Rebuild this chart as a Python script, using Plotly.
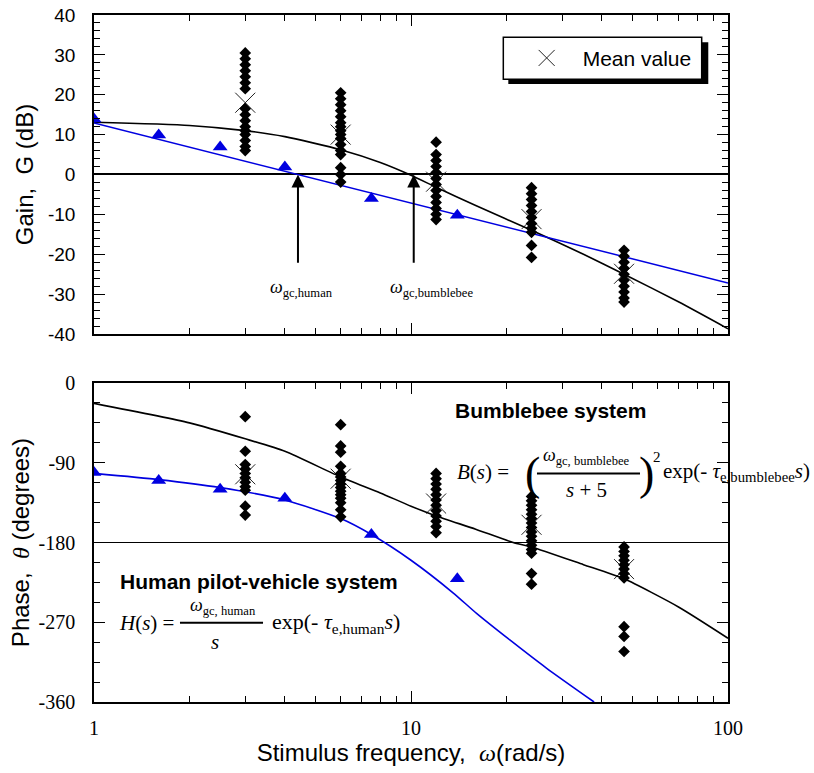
import math
import plotly.graph_objects as go

# ---------------- data ----------------
bee_freqs = [3, 6, 12, 24, 47]
bee_gain_3 = [30.5, 29, 27.5, 26, 24.5, 23, 21.5, 16.5, 15, 13.5, 12, 11, 10, 8.5, 7, 6]
bee_gain_6 = [20.5, 19, 17.5, 16, 14.5, 13, 12, 11, 10, 9, 7.5, 6, 5, 1.7, 0, -1.9]
bee_gain_12 = [8.1, 5, 3.5, 2, 0.5, -1, -2.5, -4, -5.5, -7, -8.5, -10, -11.3]
bee_gain_24 = [-3.3, -4.8, -6.3, -7.8, -9.3, -10.8, -12.3, -13.5, -14.5, -17.8, -20.8]
bee_gain_47 = [-19, -20.5, -22, -23.5, -25, -26.5, -28, -29.5, -31, -32]
bee_gain_mean = [18, 10, -1.8, -11.2, -24.9]

bee_phase_3 = [-38, -77, -92, -97, -102, -107, -112, -117, -121, -139, -149]
bee_phase_6 = [-47, -71, -78, -94, -102, -106, -110, -114, -118, -122, -126, -130, -135, -143, -151]
bee_phase_12 = [-102, -108, -114, -120, -126, -132, -138, -144, -150, -156, -162, -169]
bee_phase_24 = [-128, -133, -138, -143, -148, -153, -158, -163, -168, -173, -178, -183, -188, -192, -215, -227]
bee_phase_47 = [-185, -190, -195, -200, -205, -210, -215, -220, -275, -286, -303]
bee_phase_mean = [-103, -108, -136, -160, -210]

human_freqs = [1, 1.6, 2.5, 4, 7.5, 14]
human_gain = [13.9, 9.9, 6.9, 1.9, -6.0, -10.2]
human_phase = [-101, -110, -120, -130, -171, -221]

bee_curve_w = [1, 2, 3, 4, 6, 8, 10, 12, 16, 24, 35, 47, 70, 100]
bee_curve_gain = [13.1, 12.3, 11.0, 9.5, 6.2, 3.0, -0.2, -3.2, -7.8, -14.0, -20.0, -25.0, -32.0, -38.7]
bee_curve_pw = [1, 2, 3, 4, 6, 8, 10, 12, 16, 21, 24, 35, 47, 70, 100]
bee_curve_phase = [-23, -45, -63, -77, -106, -124, -139, -150, -165, -180, -185, -205, -221, -253, -288]

human_curve_w = [1, 4.4, 10, 100]
human_curve_gain = [12.9, 0, -7.2, -27.2]
human_curve_pw = [1, 1.6, 2.5, 4, 6, 7.5, 10, 13.6, 16.1, 20.5, 26.8, 37.8]
human_curve_phase = [-102, -109, -118, -132, -153, -171, -200, -237, -260, -290, -322, -360]

wgc_human = 4.4
wgc_bee = 10.2

gain_ticks = [40, 30, 20, 10, 0, -10, -20, -30, -40]
gain_tick_text = ["40", "30", "20", "10", "0", "-10", "-20", "-30", "-40"]
phase_ticks = [0, -90, -180, -270, -360]
phase_tick_text = ["0", "-90", "-180", "-270", "-360"]
freq_ticks = [1, 10, 100]
freq_tick_text = ["1", "10", "100"]
minor_freq = [2, 3, 4, 5, 6, 7, 8, 9, 20, 30, 40, 50, 60, 70, 80, 90]

# ---------------- helpers ----------------
def stack(freqs, groups):
    xs, ys = [], []
    for f, g in zip(freqs, groups):
        xs += [f] * len(g)
        ys += g
    return xs, ys

BLACK = "#000000"
BLUE = "#0000E0"
XCOL = "#222222"
SANS = "Liberation Sans, Arial, sans-serif"
SERIF = "Liberation Serif, Times New Roman, serif"

fig = go.Figure()

gx, gy = stack(bee_freqs, [bee_gain_3, bee_gain_6, bee_gain_12, bee_gain_24, bee_gain_47])
px_, py_ = stack(bee_freqs, [bee_phase_3, bee_phase_6, bee_phase_12, bee_phase_24, bee_phase_47])

xmark = dict(symbol="x-thin-open", size=20, color=XCOL, line=dict(color=XCOL, width=1))
fig.add_trace(go.Scatter(x=bee_freqs, y=bee_gain_mean, mode="markers", name="Mean value",
                         marker=xmark, xaxis="x", yaxis="y", showlegend=True))
fig.add_trace(go.Scatter(x=bee_freqs, y=bee_phase_mean, mode="markers", name="Mean value",
                         marker=xmark, xaxis="x2", yaxis="y2", showlegend=False))

# model curves
fig.add_trace(go.Scatter(x=bee_curve_w, y=bee_curve_gain, mode="lines",
                         line=dict(color=BLACK, width=1.6, shape="spline", smoothing=0.6),
                         xaxis="x", yaxis="y", showlegend=False))
fig.add_trace(go.Scatter(x=human_curve_w, y=human_curve_gain, mode="lines", line=dict(color=BLUE, width=1.5),
                         xaxis="x", yaxis="y", showlegend=False))
fig.add_trace(go.Scatter(x=bee_curve_pw, y=bee_curve_phase, mode="lines",
                         line=dict(color=BLACK, width=1.6, shape="spline", smoothing=0.6),
                         xaxis="x2", yaxis="y2", showlegend=False))
fig.add_trace(go.Scatter(x=human_curve_pw, y=human_curve_phase, mode="lines",
                         line=dict(color=BLUE, width=1.6, shape="spline", smoothing=0.6),
                         xaxis="x2", yaxis="y2", showlegend=False))

# bumblebee data diamonds
fig.add_trace(go.Scatter(x=gx, y=gy, mode="markers", marker=dict(symbol="diamond", size=9, color=BLACK),
                         xaxis="x", yaxis="y", showlegend=False))
fig.add_trace(go.Scatter(x=px_, y=py_, mode="markers", marker=dict(symbol="diamond", size=9, color=BLACK),
                         xaxis="x2", yaxis="y2", showlegend=False))

# human data triangles
fig.add_trace(go.Scatter(x=human_freqs, y=human_gain, mode="markers", marker=dict(symbol="triangle-up", size=13, color=BLUE),
                         xaxis="x", yaxis="y", showlegend=False))
fig.add_trace(go.Scatter(x=human_freqs, y=human_phase, mode="markers", marker=dict(symbol="triangle-up", size=13, color=BLUE),
                         xaxis="x2", yaxis="y2", showlegend=False))

axis_common = dict(showline=True, linecolor=BLACK, linewidth=1.5, mirror="allticks", ticks="inside",
                   tickcolor=BLACK, tickwidth=1.3, ticklen=11, showgrid=False, zeroline=False,
                   automargin=False)

fig.update_layout(
    width=814, height=773,
    margin=dict(l=94, r=86, t=15, b=71),
    paper_bgcolor="white", plot_bgcolor="white",
    font=dict(family=SANS, color=BLACK, size=18),
    xaxis=dict(domain=[0, 1], anchor="y", type="log", range=[0, 2], tickvals=freq_ticks,
               showticklabels=False,
               minor=dict(tickvals=minor_freq, ticks="inside", ticklen=6, tickcolor=BLACK, tickwidth=1.2),
               **axis_common),
    yaxis=dict(domain=[0.5357, 1], anchor="x", range=[-40, 40], tickvals=gain_ticks, ticktext=gain_tick_text,
               tickfont=dict(family=SANS, size=19), ticklabelstandoff=13,
               minor=dict(dtick=2, ticks="inside", ticklen=6, tickcolor=BLACK, tickwidth=1.2),
               title=dict(text="Gain,  G (dB)", font=dict(family=SANS, size=24), standoff=8),
               **axis_common),
    xaxis2=dict(domain=[0, 1], anchor="y2", type="log", range=[0, 2], tickvals=freq_ticks,
                ticktext=freq_tick_text, tickfont=dict(family=SERIF, size=20), ticklabelstandoff=7,
                minor=dict(tickvals=minor_freq, ticks="inside", ticklen=6, tickcolor=BLACK, tickwidth=1.2),
                title=dict(text="Stimulus frequency,  <i><span style='font-family:Liberation Serif'>ω</span></i>(rad/s)",
                           font=dict(family=SANS, size=24), standoff=4),
                **axis_common),
    yaxis2=dict(domain=[0, 0.4643], anchor="x2", range=[-360, 0], tickvals=phase_ticks, ticktext=phase_tick_text,
                tickfont=dict(family=SERIF, size=20), ticklabelstandoff=13,
                minor=dict(dtick=22.5, tick0=0, ticks="inside", ticklen=6, tickcolor=BLACK, tickwidth=1.2),
                title=dict(text="Phase,  <i><span style='font-family:Liberation Serif'>θ</span></i> (degrees)",
                           font=dict(family=SANS, size=24), standoff=2),
                **axis_common),
    legend=dict(x=0.6572, y=0.937, xanchor="left", yanchor="middle", bgcolor="rgba(0,0,0,0)",
                borderwidth=0, font=dict(family=SANS, size=21), itemwidth=62),
)
fig.update_yaxes(selector=dict(anchor="x"), zeroline=True, zerolinecolor=BLACK, zerolinewidth=2)

shapes = [
    dict(type="line", xref="x2 domain", yref="y2", x0=0, x1=1, y0=-180, y1=-180,
         line=dict(color=BLACK, width=1.2), layer="below"),
    dict(type="rect", xref="paper", yref="paper", x0=0.6535, x1=0.9689, y0=0.8996, y1=0.9603,
         fillcolor=BLACK, line=dict(width=0), layer="above"),
    dict(type="rect", xref="paper", yref="paper", x0=0.6456, x1=0.9585, y0=0.9064, y1=0.9675,
         fillcolor="white", line=dict(color=BLACK, width=1.5), layer="above"),
    dict(type="line", xref="paper", yref="paper", x0=0.1356, x1=0.2666, y0=0.1154, y1=0.1154,
         line=dict(color=BLACK, width=2)),
    dict(type="line", xref="paper", yref="paper", x0=0.6987, x1=0.8612, y0=0.3325, y1=0.3325,
         line=dict(color=BLACK, width=2)),
]
fig.update_layout(shapes=shapes)


def txt(x, y, text, family, size, xanchor="center"):
    return dict(x=x, y=y, xref="paper", yref="paper", xanchor=xanchor, yanchor="middle",
                showarrow=False, text=text, font=dict(family=family, size=size, color=BLACK))


ann = []
for w in (wgc_human, wgc_bee):
    ann.append(dict(x=math.log10(w), y=0, ax=math.log10(w), ay=-22.5, xref="x", yref="y",
                    axref="x", ayref="y", showarrow=True, arrowhead=2, arrowsize=1.3,
                    arrowwidth=2, arrowcolor=BLACK, text=""))
ann.append(dict(x=math.log10(wgc_human), y=-28.5, xref="x", yref="y", xshift=4, showarrow=False,
                xanchor="center", yanchor="middle",
                text="<i>ω</i><sub>gc,human</sub>", font=dict(family=SERIF, size=18)))
ann.append(dict(x=math.log10(wgc_bee), y=-28.5, xref="x", yref="y", xshift=18, showarrow=False,
                xanchor="center", yanchor="middle",
                text="<i>ω</i><sub>gc,bumblebee</sub>", font=dict(family=SERIF, size=18)))

ann.append(txt(0.7208, 0.425, "<b>Bumblebee system</b>", SANS, 21))
ann.append(txt(0.2603, 0.1751, "<b>Human pilot-vehicle system</b>", SANS, 21))

# human transfer function
ann += [
    txt(0.0358, 0.115, "<i>H</i>(<i>s</i>) =", SERIF, 21, "left"),
    txt(0.2035, 0.1387, "<i>ω</i><sub>gc, human</sub>", SERIF, 18),
    txt(0.1909, 0.0878, "<i>s</i>", SERIF, 21),
    txt(0.2776, 0.115, "exp(-&nbsp;<i>τ</i><sub>e,human</sub><i>s</i>)", SERIF, 22, "left"),
]
# bumblebee transfer function
ann += [
    txt(0.5694, 0.3352, "<i>B</i>(<i>s</i>) =", SERIF, 21, "left"),
    txt(0.6909, 0.3325, "(", SERIF, 46),
    txt(0.872, 0.3325, ")", SERIF, 46),
    txt(0.8875, 0.3560, "2", SERIF, 15),
    txt(0.7771, 0.3571, "<i>ω</i><sub>gc, bumblebee</sub>", SERIF, 18),
    txt(0.7771, 0.3086, "<i>s</i> + 5", SERIF, 21),
    txt(0.8940, 0.3352, "exp(-&nbsp;<i>τ</i><sub>e,bumblebee</sub><i>s</i>)", SERIF, 21, "left"),
]
fig.update_layout(annotations=ann)

fig.write_html("out.html")
